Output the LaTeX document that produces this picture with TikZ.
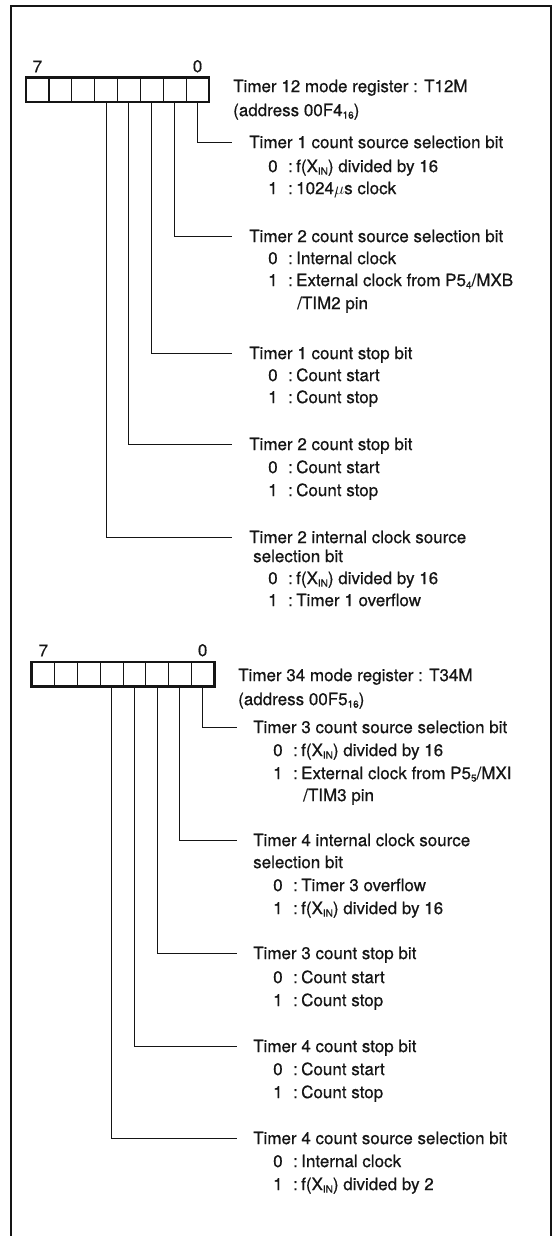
\documentclass[tikz,border=0pt]{standalone}
\usepackage{fontspec}
\setmainfont{TeX Gyre Heros}
\newfontfamily\sheetfont{TeX Gyre Heros}[FakeBold=0.6]
\usetikzlibrary{positioning, calc}

\newcommand\lowtext[1]{\raisebox{-2.5pt}{\fontsize{10}{10}\selectfont #1}}

\begin{document}
\begin{tikzpicture}[
    x=1pt, y=-1pt,
    every node/.style={font=\sheetfont\fontsize{17}{20}\selectfont},
]

% ---------------------------------------------------------------- colours
\definecolor{ink}{HTML}{151515}

\tikzset{
    cell/.style={rectangle, draw=ink, line width=0.8pt, inner sep=0pt,
                 minimum width=22.8pt, minimum height=24pt},
    regbox/.style={draw=ink, line width=2.2pt},
    frame/.style={draw=ink, line width=2pt},
    lead/.style={draw=ink, line width=0.9pt},
    bitnum/.style={inner sep=0pt, text=ink},
    head/.style={anchor=west, inner sep=0pt, text=ink,
                 text height=12.2pt, text depth=0pt},
    opt/.style={head},
}

\useasboundingbox (0,0) rectangle (558,1236);

% ---------------------------------------------------------------- outer frame (open at the foot)
\draw[frame] (11,1236) -- (11,6) -- (551,6) -- (551,1236);

% ================================================================
% GEOMETRY  (1pt = 1px of the sheet, y grows downwards)
%   T12M cells  x = 26 .. 209, y = 78 .. 102
%   T34M cells  x = 32 .. 214, y = 662 .. 686
% ================================================================

% ---------------------------------------------------------------- register T12M
\foreach \i in {0,...,7}
    \node[cell] (a\i) at ({209-(\i+0.5)*22.875}, 90) {};
\draw[regbox] (a7.north west) rectangle (a0.south east);
\node[bitnum, above=5pt of a7] (a7n) {7};
\node[bitnum, above=5pt of a0] (a0n) {0};

\node[head] (ahead) at (233, 86) {Timer 12 mode register : T12M};
\node[head] (aaddr) at (233, 110) {(address 00F4\lowtext{16})};

% bit / y / what the bit does
\foreach \i/\y/\txt in {%
    0/142/Timer 1 count source selection bit,
    1/236/Timer 2 count source selection bit,
    2/353/Timer 1 count stop bit,
    3/444/Timer 2 count stop bit,
    4/537/Timer 2 internal clock source%
} {
    \node[head] (ta\i) at (249, \y) {\txt};
    \draw[lead] (a\i.south) |- ([xshift=-17pt]ta\i.west);
}
\node[head] (ta4b) at (253, 556) {selection bit};

% name / y / value / meaning
\foreach \n/\y/\v/\txt in {%
    1/166/0/{f(X\lowtext{IN}) divided by 16},
    2/188/1/{1024$\mu$s clock},
    3/258/0/{Internal clock},
    4/280/1/{External clock from P5\lowtext{4}/MXB},
    5/375/0/{Count start},
    6/397/1/{Count stop},
    7/467/0/{Count start},
    8/490/1/{Count stop},
    9/578/0/{f(X\lowtext{IN}) divided by 16},
    10/600/1/{Timer 1 overflow}%
} {
    \node[opt] (oa\n) at (268, \y)
        {\makebox[20pt][l]{\v}\makebox[8pt][l]{:}\txt};
}
\node[head] (oa4b) at (297, 303) {/TIM2 pin};

% ---------------------------------------------------------------- register T34M
\foreach \i in {0,...,7}
    \node[cell] (b\i) at ({214-(\i+0.5)*22.75}, 674) {};
\draw[regbox] (b7.north west) rectangle (b0.south east);
\node[bitnum, above=5pt of b7] (b7n) {7};
\node[bitnum, above=5pt of b0] (b0n) {0};

\node[head] (bhead) at (238, 675) {Timer 34 mode register : T34M};
\node[head] (baddr) at (238, 699) {(address 00F5\lowtext{16})};

\foreach \i/\y/\txt in {%
    0/727/Timer 3 count source selection bit,
    1/840/Timer 4 internal clock source,
    2/953/Timer 3 count stop bit,
    3/1046/Timer 4 count stop bit,
    4/1138/Timer 4 count source selection bit%
} {
    \node[head] (tb\i) at (253, \y) {\txt};
    \draw[lead] (b\i.south) |- ([xshift=-16pt]tb\i.west);
}
\node[head] (tb1b) at (253, 862) {selection bit};

\foreach \n/\y/\v/\txt in {%
    1/750/0/{f(X\lowtext{IN}) divided by 16},
    2/773/1/{External clock from P5\lowtext{5}/MXI},
    3/885/0/{Timer 3 overflow},
    4/908/1/{f(X\lowtext{IN}) divided by 16},
    5/977/0/{Count start},
    6/1000/1/{Count stop},
    7/1069/0/{Count start},
    8/1092/1/{Count stop},
    9/1161/0/{Internal clock},
    10/1184/1/{f(X\lowtext{IN}) divided by 2}%
} {
    \node[opt] (ob\n) at (273, \y)
        {\makebox[20pt][l]{\v}\makebox[8pt][l]{:}\txt};
}
\node[head] (ob2b) at (303, 795) {/TIM3 pin};

\end{tikzpicture}
\end{document}
